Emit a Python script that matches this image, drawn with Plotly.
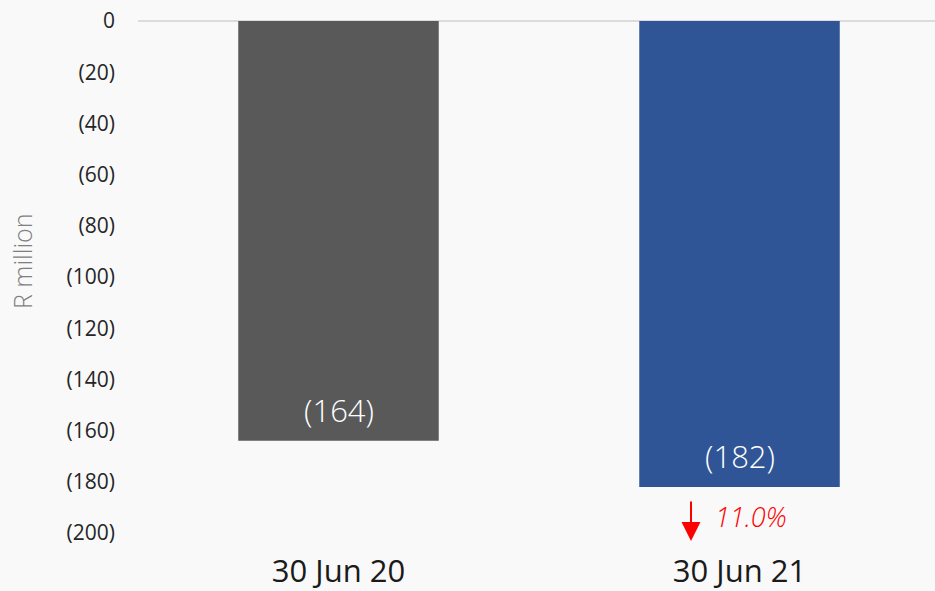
import plotly.graph_objects as go

categories = ["30 Jun 20", "30 Jun 21"]
values = [-164, -182]
bar_colors = ["#595959", "#2f5597"]
tick_vals = [0, -20, -40, -60, -80, -100, -120, -140, -160, -180, -200]
tick_text = ["0", "(20)", "(40)", "(60)", "(80)", "(100)", "(120)", "(140)", "(160)", "(180)", "(200)"]
change_label = "11.0%"

FONT = "Open Sans"
PW, PH = 797, 512

fig = go.Figure()
fig.add_trace(go.Bar(
    x=categories, y=values, marker=dict(color=bar_colors, line=dict(width=0)),
    width=0.5, hoverinfo="skip", showlegend=False,
))

for c, v in zip(categories, values):
    fig.add_annotation(x=c, y=v + 12, text=f"({abs(v)})", showarrow=False,
                       font=dict(family=FONT, size=31, color="white", weight=300),
                       xref="x", yref="y")

# change arrow and label
fig.add_annotation(x=(691 - 138) / PW, y=(533 - 541) / PH, xref="paper", yref="paper",
                   text="", showarrow=True,
                   arrowhead=2, arrowsize=1.9, arrowwidth=2, arrowcolor="#ff0000",
                   ax=0, ay=-41, standoff=0)
fig.add_annotation(x=1, y=-193.5, xref="x", yref="y", text=f"<i>{change_label}</i>",
                   showarrow=False, font=dict(family=FONT, size=27, color="#ff0000", weight=300),
                   xshift=11)

# axis title
fig.add_annotation(x=(22 - 138) / PW, y=(533 - 262) / PH, xref="paper", yref="paper",
                   text="R million", textangle=-90, showarrow=False,
                   xanchor="center", yanchor="middle",
                   font=dict(family=FONT, size=25, color="#7f7f7f", weight=300))

fig.update_layout(
    width=935, height=591,
    margin=dict(l=138, r=0, t=21, b=58),
    paper_bgcolor="#f9f9f9", plot_bgcolor="#f9f9f9",
    xaxis=dict(range=[-0.5, 1.4875], showgrid=False, zeroline=False, showline=False,
               ticks="", ticklabelstandoff=17, automargin=False,
               tickfont=dict(family=FONT, size=31, color="#1a1a1a")),
    yaxis=dict(range=[-200, 0], tickvals=tick_vals, ticktext=tick_text,
               showgrid=False, zeroline=True, zerolinecolor="#dcdcdc", zerolinewidth=2,
               showline=False, ticks="", ticklabelstandoff=22, automargin=False,
               tickfont=dict(family=FONT, size=21, color="#262626")),
)

fig.write_html("out.html")
